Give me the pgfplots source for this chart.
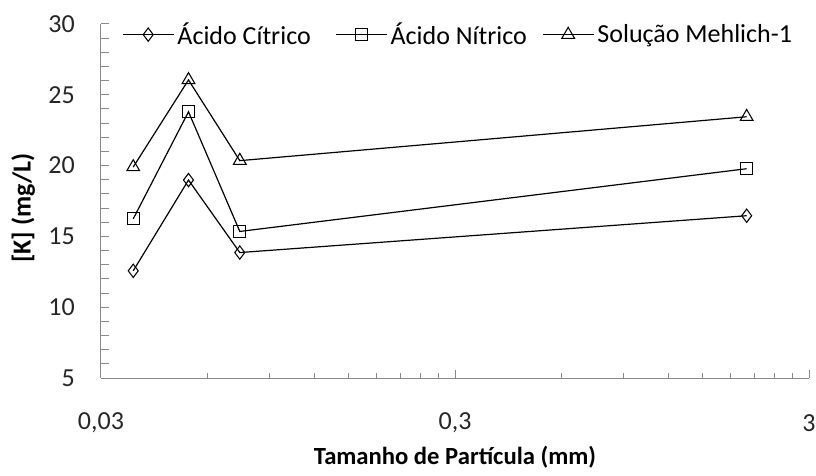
\documentclass[border=0pt]{standalone}
\usepackage{pgfplots}
\pgfplotsset{compat=1.18}
\usepackage{fontspec}
\setmainfont{Carlito}
\definecolor{axgray}{HTML}{898989}
\begin{document}
\begin{tikzpicture}
\useasboundingbox (0,0) rectangle (612pt,356.25pt);
\begin{axis}[
  at={(75.75pt,72.75pt)}, anchor=south west,
  width=531pt, height=265.5pt, scale only axis,
  xmode=log, xmin=0.03, xmax=3, ymin=5, ymax=30,
  axis x line*=bottom, axis y line*=left,
  axis line style={axgray, line width=0.75pt},
  every tick/.style={axgray, line width=0.75pt},
  tick align=inside,
  major tick length=6pt, minor tick length=3.75pt,
  xtick={0.03,0.3,3}, xticklabels={{0,03},{0,3},3},
  minor xtick={0.06,0.09,0.12,0.15,0.18,0.21,0.24,0.27,0.6,0.9,1.2,1.5,1.8,2.1,2.4,2.7},
  ytick={5,6,...,30},
  yticklabels={5,,,,,10,,,,,15,,,,,20,,,,,25,,,,,30},
  tick label style={font=\fontsize{19.5}{23}\selectfont, text=black!85},
  xticklabel style={anchor=center, yshift=-33.75pt, inner sep=0pt},
  yticklabel style={anchor=east, xshift=-19.5pt, inner sep=0pt},
  xlabel={Tamanho de Partícula (mm)},
  ylabel={[K] (mg/L)},
  xlabel style={font=\fontsize{18.5}{22}\selectfont\bfseries, at={(axis description cs:0.5,-0.225)}, anchor=center},
  ylabel style={font=\fontsize{19.5}{23}\selectfont\bfseries, at={(axis description cs:-0.110,0.48)}, anchor=center},
  clip=false,
  legend columns=-1,
  legend style={at={(axis description cs:0.0297,0.97)}, anchor=west,
    draw=none, fill=none, inner sep=0pt,
    font=\fontsize{19.5}{23}\selectfont,
    nodes={inner xsep=2.5pt},
    /tikz/column 2/.style={column sep=16pt},
    /tikz/column 4/.style={column sep=9pt}},
  legend image code/.code={\draw[mark repeat=2,mark phase=2] plot coordinates {(0pt,0pt)(19pt,0pt)(38pt,0pt)};},
  every axis plot/.append style={black, line width=0.9pt, mark options={solid, line width=0.8pt}},
]
\addplot[mark=diamond, mark size=5pt] coordinates {(0.037,12.57) (0.053,18.98) (0.074,13.86) (2.0,16.46)};
\addlegendentry{Ácido Cítrico}
\addplot[mark=square, mark size=4.5pt] coordinates {(0.037,16.24) (0.053,23.8) (0.074,15.35) (2.0,19.78)};
\addlegendentry{Ácido Nítrico}
\addplot[mark=triangle, mark size=5.5pt] coordinates {(0.037,19.9) (0.053,26.05) (0.074,20.35) (2.0,23.45)};
\addlegendentry{Solução Mehlich-1}
\end{axis}
\end{tikzpicture}
\end{document}
